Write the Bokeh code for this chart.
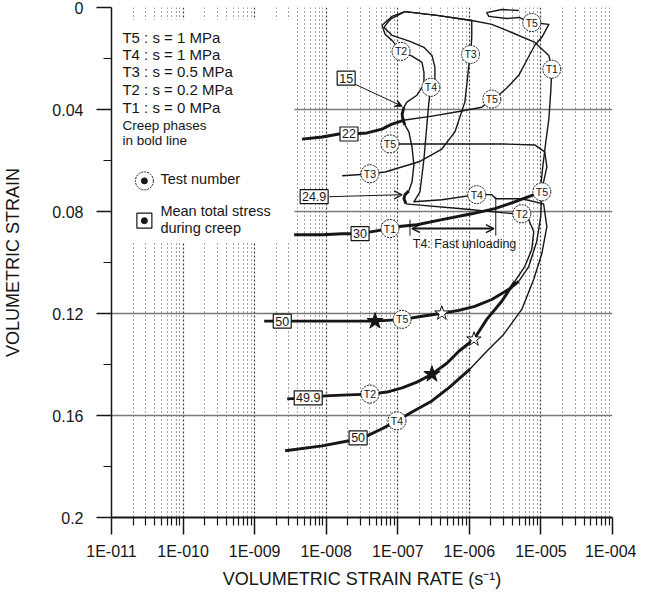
from bokeh.plotting import figure
from bokeh.models import (Range1d, FixedTicker, Grid, BoxAnnotation, Label,
                          ColumnDataSource, Arrow, VeeHead, OpenHead)
from bokeh.core.properties import value
from bokeh.embed import file_html
from bokeh.resources import INLINE

FONT = "Liberation Sans"

# ---------------- axis ticks ----------------
x_ticks = [1e-11, 1e-10, 1e-9, 1e-8, 1e-7, 1e-6, 1e-5, 1e-4]
x_tick_labels = ["1E-011", "1E-010", "1E-009", "1E-008", "1E-007", "1E-006", "1E-005", "1E-004"]
y_ticks = [0.0, 0.04, 0.08, 0.12, 0.16, 0.2]
y_tick_labels = ["0", "0.04", "0.08", "0.12", "0.16", "0.2"]
y_minor = [0.02, 0.06, 0.10, 0.14, 0.18]

# ---------------- test curves (rate s-1, volumetric strain) ----------------
# T1 : s = 0 MPa
t1_rate = [1.26e-7, 3.52e-7, 1.08e-6, 2.06e-6, 3.92e-6, 8.2e-6, 1.29e-5, 1.42e-5, 1.37e-5,
           1.29e-5, 1.17e-5, 1.06e-5, 9.93e-6, 8.73e-6]
t1_strain = [0.0016, 0.0031, 0.0051, 0.0066, 0.0098, 0.0137, 0.0188, 0.0242, 0.0332,
             0.0438, 0.0527, 0.0625, 0.0703, 0.0730]
t1_creep_rate = [8.73e-6, 6.76e-6, 3.92e-6, 2.27e-6, 1.08e-6, 4.13e-7, 1.85e-7, 1.04e-7,
                 7.78e-8, 4.37e-8, 2.97e-8, 1.67e-8, 8.8e-9, 3.56e-9]
t1_creep_strain = [0.0730, 0.0742, 0.0766, 0.0789, 0.0809, 0.0832, 0.0852, 0.0859,
                   0.0867, 0.0879, 0.0887, 0.0887, 0.0891, 0.0891]

# T2 : s = 0.2 MPa
t2_rate_a = [1.26e-7, 8.30e-8, 6.03e-8, 6.64e-8, 8.30e-8, 1.11e-7, 1.58e-7, 2.18e-7, 2.32e-7,
             2.32e-7, 1.85e-7, 1.34e-7, 1.22e-7]
t2_strain_a = [0.0016, 0.0035, 0.0070, 0.0105, 0.0129, 0.0172, 0.0191, 0.0215, 0.0254,
               0.0301, 0.0344, 0.0371, 0.0391]
t2_creep15_rate = [1.22e-7, 1.15e-7, 1.18e-7, 1.26e-7]
t2_creep15_strain = [0.0391, 0.0418, 0.0441, 0.0461]
t2_rate_b = [1.26e-7, 1.43e-7, 1.58e-7, 1.68e-7, 1.58e-7, 1.43e-7]
t2_strain_b = [0.0461, 0.0488, 0.0547, 0.0617, 0.0684, 0.0719]
t2_creep25_rate = [1.43e-7, 1.26e-7, 1.22e-7, 1.30e-7]
t2_creep25_strain = [0.0719, 0.0734, 0.0750, 0.0770]
t2_rate_c = [1.30e-7, 1.68e-7, 7.85e-7, 4.32e-6, 5.4e-6, 6.76e-6, 7.94e-6, 7.45e-6, 5.94e-6, 4.32e-6]
t2_strain_c = [0.0770, 0.0773, 0.0789, 0.0809, 0.0812, 0.0832, 0.0879, 0.0949, 0.1016, 0.1074]
t2_creep50_rate = [4.32e-6, 2.84e-6, 1.75e-6, 1.16e-6, 7.14e-7, 4.85e-7, 3.0e-7, 1.85e-7,
                   1.15e-7, 7.06e-8, 4.09e-8, 1.67e-8, 9.66e-9, 5.6e-9, 2.85e-9]
t2_creep50_strain = [0.1074, 0.1152, 0.1223, 0.1301, 0.1348, 0.1395, 0.1438, 0.1469,
                     0.1492, 0.1508, 0.1516, 0.1520, 0.1523, 0.1531, 0.1535]

# T3 : s = 0.5 MPa
t3_rate = [1.26e-7, 3.52e-7, 1.08e-6, 1.08e-6, 1.04e-6, 9.84e-7, 9.22e-7, 8.65e-7, 6.28e-7,
           4.13e-7, 1.98e-7, 6.64e-8, 4.09e-8, 2.70e-8, 1.67e-8]
t3_strain = [0.0016, 0.0031, 0.0051, 0.0117, 0.0184, 0.0227, 0.0301, 0.0371, 0.0488,
             0.0555, 0.0605, 0.0645, 0.0652, 0.0656, 0.0660]

# T4 : s = 1 MPa
t4_rate = [1.26e-7, 7.78e-8, 6.43e-8, 8.30e-8, 1.48e-7, 2.32e-7, 3.0e-7, 3.30e-7, 3.30e-7,
           2.90e-7, 2.72e-7, 2.55e-7, 2.32e-7, 2.04e-7, 1.68e-7, 4.13e-7, 1.27e-6, 2.06e-6,
           2.34e-6, 5.4e-6, 1.09e-5, 1.21e-5, 1.03e-5, 7.94e-6, 5.4e-6, 3.03e-6, 1.75e-6, 1.02e-6]
t4_strain = [0.0016, 0.0047, 0.0078, 0.0109, 0.0133, 0.0156, 0.0188, 0.0234, 0.0285,
             0.0313, 0.0371, 0.0461, 0.0594, 0.0723, 0.0762, 0.0754, 0.0734, 0.0734,
             0.0750, 0.0750, 0.0770, 0.0859, 0.0965, 0.1066, 0.1184, 0.1281, 0.1348, 0.1418]
t4_creep_rate = [1.02e-6, 5.35e-7, 3.0e-7, 1.58e-7, 9.75e-8, 6.03e-8, 3.72e-8, 2.08e-8,
                 8.8e-9, 2.67e-9]
t4_creep_strain = [0.1418, 0.1488, 0.1543, 0.1586, 0.1621, 0.1652, 0.1680, 0.1699,
                   0.1719, 0.1738]

# T5 : s = 1 MPa
t5_rate_a = [4.90e-6, 2.84e-6, 1.75e-6, 1.87e-6, 3.33e-6, 4.90e-6, 7.45e-6, 1.29e-5, 1.03e-5,
             8.2e-6, 6.34e-6, 4.90e-6, 3.33e-6, 2.66e-6, 2.06e-6, 1.49e-6, 7.85e-7, 3.0e-7, 1.26e-7]
t5_strain_a = [0.0012, 0.0008, 0.0020, 0.0035, 0.0043, 0.0039, 0.0059, 0.0066, 0.0117,
               0.0148, 0.0207, 0.0266, 0.0316, 0.0340, 0.0359, 0.0391, 0.0406, 0.0426, 0.0441]
t5_creep22_rate = [1.26e-7, 8.30e-8, 6.03e-8, 3.72e-8, 2.30e-8, 1.51e-8, 8.8e-9, 4.6e-9]
t5_creep22_strain = [0.0441, 0.0457, 0.0477, 0.0492, 0.0496, 0.0496, 0.0508, 0.0516]
t5_rate_b = [6.03e-8, 7.78e-8, 2.18e-7, 7.85e-7, 2.84e-6, 8.2e-6, 1.13e-5, 1.21e-5, 1.09e-5,
             1.03e-5, 9.93e-6, 8.73e-6, 6.76e-6, 4.90e-6]
t5_strain_b = [0.0535, 0.0535, 0.0535, 0.0535, 0.0535, 0.0539, 0.0566, 0.0625, 0.0684,
               0.0723, 0.0820, 0.0918, 0.1016, 0.1074]
t5_creep50_rate = [4.90e-6, 3.56e-6, 2.06e-6, 1.19e-6, 7.14e-7, 4.13e-7, 2.18e-7, 1.43e-7,
                   1.15e-7, 7.06e-8, 4.81e-8, 3.17e-8, 1.67e-8, 8.8e-9, 3.04e-9, 1.36e-9]
t5_creep50_strain = [0.1074, 0.1105, 0.1145, 0.1172, 0.1188, 0.1199, 0.1211, 0.1219,
                     0.1223, 0.1227, 0.1230, 0.1230, 0.1230, 0.1230, 0.1230, 0.1230]

# ---------------- test number markers ----------------
tag_text = ["T2", "T4", "T3", "T5", "T1", "T5", "T5", "T3", "T4", "T2", "T5", "T1", "T5", "T2", "T4"]
tag_rate = [1.11e-7, 2.90e-7, 1.04e-6, 7.45e-6, 1.42e-5, 2.06e-6, 7.78e-8, 4.09e-8, 1.27e-6,
            5.4e-6, 1.03e-5, 7.78e-8, 1.15e-7, 4.09e-8, 9.75e-8]
tag_strain = [0.0172, 0.0313, 0.0184, 0.0059, 0.0242, 0.0359, 0.0535, 0.0652, 0.0734,
              0.0809, 0.0723, 0.0867, 0.1223, 0.1516, 0.1621]

# ---------------- mean total stress during creep ----------------
stress_text = ["15", "22", "24.9", "30", "50", "49.9", "50"]
stress_rate = [1.90e-8, 2.08e-8, 6.78e-9, 2.97e-8, 2.43e-9, 5.6e-9, 2.79e-8]
stress_strain = [0.0277, 0.0496, 0.0742, 0.0887, 0.1230, 0.1531, 0.1688]

# stars on the 50 MPa creep curves
star_full_rate = [4.81e-8, 3.0e-7]
star_full_strain = [0.1230, 0.1438]
star_open_rate = [4.13e-7, 1.16e-6]
star_open_strain = [0.1199, 0.1301]

legend_lines = ["T5 : s = 1 MPa", "T4 : s = 1 MPa", "T3 : s = 0.5 MPa",
                "T2 : s = 0.2 MPa", "T1 : s = 0 MPa"]

INK = "#161616"

p = figure(width=636, height=591, x_axis_type="log",
           x_range=Range1d(1e-11, 1e-4), y_range=Range1d(0.2, 0.0),
           output_backend="svg", toolbar_location=None,
           min_border_left=111, min_border_right=24, min_border_top=7, min_border_bottom=72)
p.outline_line_color = None
p.background_fill_color = "white"
p.border_fill_color = "white"

# ---- x axis
minor_x = [m * t for t in x_ticks[:-1] for m in range(2, 10)]
xa = p.xaxis[0]
xa.ticker = FixedTicker(ticks=x_ticks, minor_ticks=minor_x)
xa.major_label_overrides = dict(zip(x_ticks, x_tick_labels))
xa.axis_line_width = 2
xa.axis_line_color = INK
xa.major_tick_out = 17
xa.major_tick_in = 0
xa.minor_tick_out = 8
xa.minor_tick_in = 0
xa.major_tick_line_width = 1.5
xa.major_tick_line_color = INK
xa.minor_tick_line_color = INK
xa.minor_tick_line_width = 1.2
xa.major_label_text_font = FONT
xa.major_label_text_font_size = "16px"
xa.major_label_text_color = INK
xa.major_label_standoff = 8
xa.axis_label = "VOLUMETRIC STRAIN RATE (s\u207b\u00b9)"
xa.axis_label_text_font = FONT
xa.axis_label_text_font_size = "18px"
xa.axis_label_text_font_style = "normal"
xa.axis_label_text_color = INK
xa.axis_label_standoff = 6

# ---- y axis
ya = p.yaxis[0]
ya.ticker = FixedTicker(ticks=y_ticks, minor_ticks=y_minor)
ya.major_label_overrides = dict(zip(y_ticks, y_tick_labels))
ya.axis_line_width = 1.5
ya.axis_line_color = INK
ya.major_tick_out = 15
ya.major_tick_in = 0
ya.minor_tick_out = 8
ya.minor_tick_in = 0
ya.major_tick_line_width = 1.5
ya.major_tick_line_color = INK
ya.minor_tick_line_color = INK
ya.major_label_text_font = FONT
ya.major_label_text_font_size = "16px"
ya.major_label_text_color = INK
ya.major_label_standoff = 13
ya.axis_label = "VOLUMETRIC STRAIN"
ya.axis_label_text_font = FONT
ya.axis_label_text_font_size = "18px"
ya.axis_label_text_font_style = "normal"
ya.axis_label_text_color = INK
ya.axis_label_standoff = 26

# ---- grids
p.xgrid.grid_line_color = "#3a3a3a"
p.xgrid.grid_line_dash = "2 2"
p.xgrid.grid_line_width = 1.2
p.xgrid.minor_grid_line_color = "#4a4a4a"
p.xgrid.minor_grid_line_dash = "1 3"
p.xgrid.minor_grid_line_width = 1
p.ygrid.ticker = FixedTicker(ticks=y_ticks[1:-1])
p.ygrid.grid_line_color = "#7a7a7a"
p.ygrid.grid_line_width = 1.5
top_grid = Grid(dimension=1, ticker=FixedTicker(ticks=y_ticks[:1]),
                grid_line_color="#333333", grid_line_dash="1 3", grid_line_width=1)
p.add_layout(top_grid)

# white area behind the key (no grid there)
p.add_layout(BoxAnnotation(left=1e-11, right=3.6e-9, bottom=0.0047, top=0.092,
                           fill_color="white", fill_alpha=1.0, line_color=None,
                           level="underlay"))

# ---- curves
THIN = 1.4
BOLD = 2.9
for xs, ys, w in [
    (t1_rate, t1_strain, THIN), (t1_creep_rate, t1_creep_strain, BOLD),
    (t2_rate_a, t2_strain_a, THIN), (t2_creep15_rate, t2_creep15_strain, BOLD),
    (t2_rate_b, t2_strain_b, THIN), (t2_creep25_rate, t2_creep25_strain, BOLD),
    (t2_rate_c, t2_strain_c, THIN), (t2_creep50_rate, t2_creep50_strain, BOLD),
    (t3_rate, t3_strain, THIN),
    (t4_rate, t4_strain, THIN), (t4_creep_rate, t4_creep_strain, BOLD),
    (t5_rate_a, t5_strain_a, THIN), (t5_creep22_rate, t5_creep22_strain, BOLD),
    (t5_rate_b, t5_strain_b, THIN), (t5_creep50_rate, t5_creep50_strain, BOLD),
]:
    p.line(xs, ys, line_width=w, line_color=INK, line_join="round")

# ---- annotations: arrows and fast unloading
p.add_layout(Arrow(end=VeeHead(size=7, fill_color=INK, line_color=INK), x_start=2.53e-8, y_start=0.0301,
                   x_end=1.15e-7, y_end=0.0387, line_color=INK, line_width=1))
p.add_layout(Arrow(end=OpenHead(size=8, line_color=INK, line_width=1.2), x_start=1.10e-8, y_start=0.0742,
                   x_end=1.15e-7, y_end=0.0734, line_color=INK, line_width=1))
p.add_layout(Arrow(start=OpenHead(size=8, line_color=INK, line_width=1.5),
                   end=OpenHead(size=8, line_color=INK, line_width=1.5),
                   x_start=1.58e-7, y_start=0.0867, x_end=2.20e-6, y_end=0.0867,
                   line_color=INK, line_width=2))
p.segment(x0=[1.48e-7, 2.34e-6], y0=[0.0832, 0.0742], x1=[1.48e-7, 2.34e-6], y1=[0.0895, 0.0895],
          line_color=INK, line_width=1)
p.add_layout(Label(x=1.62e-7, y=0.0926, text="T4: Fast  unloading", text_font=FONT,
                   text_font_size="12.5px", text_baseline="middle", text_color=INK))

# ---- stars
p.scatter(star_full_rate, star_full_strain, marker="star", size=17, fill_color=INK, line_color=INK)
p.scatter(star_open_rate, star_open_strain, marker="star", size=15, fill_color="white",
          line_color=INK, line_width=1)

# ---- test number tags
tags = ColumnDataSource(dict(x=tag_rate, y=tag_strain, t=tag_text))
p.scatter("x", "y", source=tags, marker="circle", size=18, fill_color="white",
          line_color=INK, line_dash="2 1", line_width=1)
p.text("x", "y", text="t", source=tags, text_align="center", text_baseline="middle",
       text_font=value(FONT), text_font_size="10.5px", text_color=INK)

# ---- stress boxes (box width follows the text length)
box_w = [7.0 * len(t.replace(".", "")) + (3 if "." in t else 0) + 4 for t in stress_text]
stress = ColumnDataSource(dict(x=stress_rate, y=stress_strain, t=stress_text, w=box_w))
p.rect("x", "y", width="w", height=14, width_units="screen", height_units="screen",
       source=stress, fill_color="white", line_color=INK, line_width=1.2)
p.text("x", "y", text="t", source=stress, text_align="center", text_baseline="middle",
       text_font=value(FONT), text_font_size="12.5px", text_color=INK)

# ---- key
key_y = [0.0117, 0.0184, 0.0250, 0.0320, 0.0391]
for txt, yy in zip(legend_lines, key_y):
    p.add_layout(Label(x=1.42e-11, y=yy, text=txt, text_font=FONT, text_font_size="15px",
                       text_baseline="middle", text_color=INK))
for txt, yy in [("Creep phases", 0.0461), ("in bold line", 0.0523)]:
    p.add_layout(Label(x=1.42e-11, y=yy, text=txt, text_font=FONT, text_font_size="13.5px",
                       text_baseline="middle", text_color=INK))
for txt, yy in [("Test number", 0.0672), ("Mean total stress", 0.0797), ("during creep", 0.0863)]:
    p.add_layout(Label(x=4.82e-11, y=yy, text=txt, text_font=FONT, text_font_size="14.5px",
                       text_baseline="middle", text_color=INK))
p.scatter([2.88e-11], [0.0680], marker="circle", size=18, fill_color="white", line_color=INK,
          line_dash="2 1", line_width=1)
p.scatter([2.88e-11], [0.0836], marker="square", size=15, fill_color="white", line_color=INK,
          line_width=1.2)
p.scatter([2.88e-11, 2.88e-11], [0.0680, 0.0836], marker="circle", size=6, fill_color=INK,
          line_color=INK)

open("out.html", "w").write(file_html(p, INLINE))
